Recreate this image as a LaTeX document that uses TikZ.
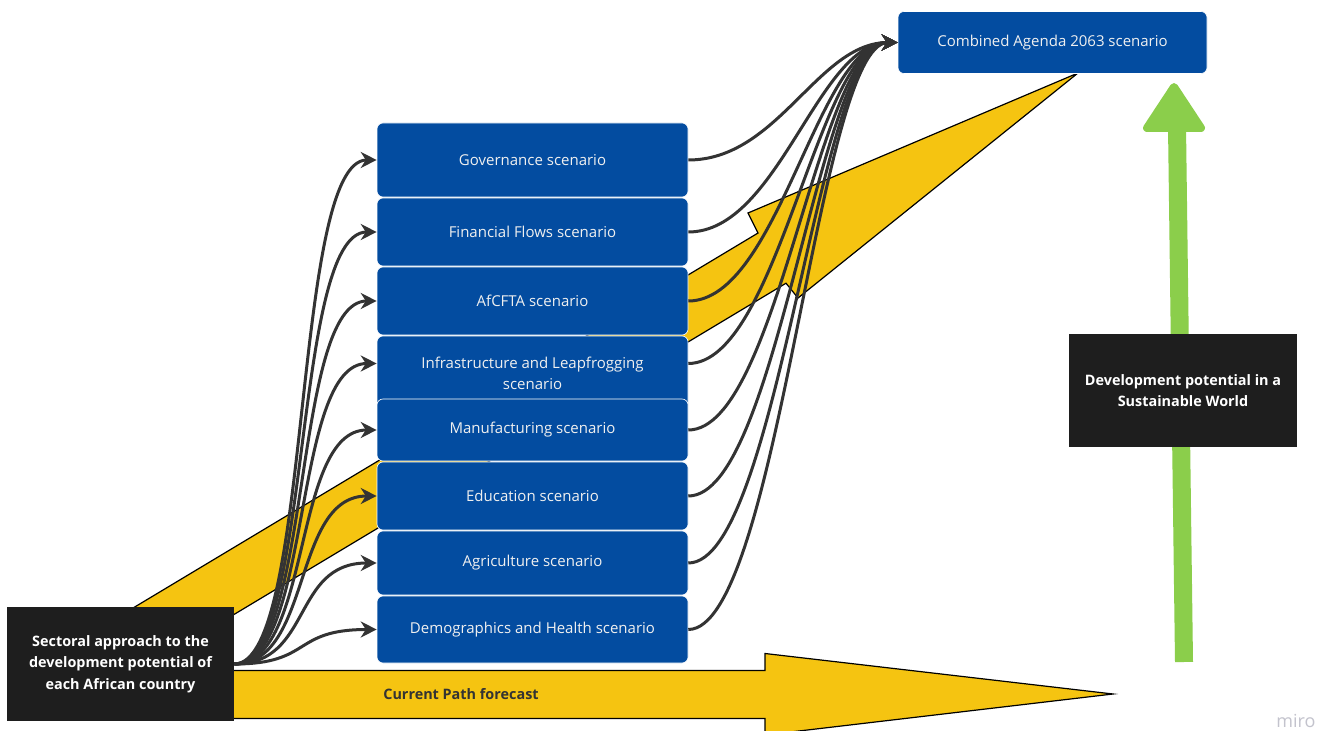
\documentclass[tikz,border=0pt]{standalone}
\usepackage{fontspec}
\setmainfont{Open Sans}
\definecolor{scenblue}{RGB}{3,76,160}
\definecolor{boxblack}{RGB}{30,30,30}
\definecolor{linkgray}{RGB}{51,51,51}
\definecolor{pathyellow}{RGB}{245,196,17}
\definecolor{worldgreen}{RGB}{139,206,75}
\definecolor{mirogray}{RGB}{195,195,205}
\usetikzlibrary{arrows.meta,positioning}

\tikzset{
  scenbox/.style={fill=scenblue, draw=white, line width=0.3pt, rounded corners=3pt,
    text=white!94!black, font=\fontsize{7.5}{10.5}\selectfont, align=center,
    minimum width=155.5pt, inner sep=0pt},
  blackbox/.style={fill=boxblack, text=white, font=\bfseries\fontsize{7.2}{10.8}\selectfont,
    align=center, inner sep=0pt},
  link/.style={linkgray, line width=1.5pt, -{Stealth[length=8pt,width=8pt]}},
  bigarrow/.style={fill=pathyellow, draw=black, line width=0.6pt, line join=miter},
}

\begin{document}
\begin{tikzpicture}[x=0.5pt, y=-0.5pt]
\useasboundingbox (0,0) rectangle (1333,731);
\fill[white] (0,0) rectangle (1333,731);

% --- Yellow arrows ---
\draw[bigarrow] (60,670.5) -- (765,670.5) -- (765,653.5) -- (1113,694) -- (765,735)
  -- (765,718.5) -- (60,718.5) -- cycle;
\draw[bigarrow] (125,612.8) -- (758,233) -- (748,213) -- (1078,73) -- (798,298)
  -- (786,283.2) -- (154.6,662.1) -- cycle;
\node[font=\bfseries\fontsize{7.2}{9}\selectfont, text=linkgray] (cpf) at (461,694) {Current Path forecast};

% --- Green arrow ---
\draw[worldgreen, line width=9pt] (1184,662) -- (1177,126);
\filldraw[worldgreen, line width=4pt, line join=round] (1147,128) -- (1174,87) -- (1201,128) -- cycle;

% --- Scenario boxes ---
\node[scenbox, minimum height=37pt] (gov) at (532.5,160) {Governance scenario};
\node[scenbox, minimum height=34pt] (fin) at (532.5,232) {Financial Flows scenario};
\node[scenbox, minimum height=34pt] (afcfta) at (532.5,301) {AfCFTA scenario};
\node[scenbox, minimum height=37.5pt] (infra) at (532.5,373.5) {Infrastructure and Leapfrogging\\scenario};
\node[scenbox, minimum height=31pt] (manu) at (532.5,430) {Manufacturing scenario};
\node[scenbox, minimum height=34pt] (edu) at (532.5,496) {Education scenario};
\node[scenbox, minimum height=32pt] (agri) at (532.5,563) {Agriculture scenario};
\node[scenbox, minimum height=33.5pt] (demo) at (532.5,629.5) {Demographics and Health scenario};

\node[scenbox, minimum width=154.5pt, minimum height=31pt] (combined) at (1052.5,42.5) {Combined Agenda 2063 scenario};

% --- Black boxes ---
\node[blackbox, minimum width=113.5pt, minimum height=57pt] (sector) at (120.5,664)
  {Sectoral approach to the\\development potential of\\each African country};
\node[blackbox, minimum width=114pt, minimum height=56.5pt] (world) at (1183,390.5)
  {Development potential in a\\Sustainable World};

% --- Links ---
\foreach \n/\dy in {gov/0,fin/0,afcfta/0,infra/5,manu/0,edu/0,agri/0,demo/0} {
  \draw[link] (sector.east) .. controls +(78,0) and +(-85,0) .. ([yshift=\dy pt]\n.west);
  \draw[link] ([yshift=\dy pt]\n.east) .. controls +(90,0) and +(-80,0) .. (combined.west);
}

\node[text=mirogray, font=\fontsize{9}{10}\selectfont] (miro) at (1296,721) {miro};
\end{tikzpicture}
\end{document}
